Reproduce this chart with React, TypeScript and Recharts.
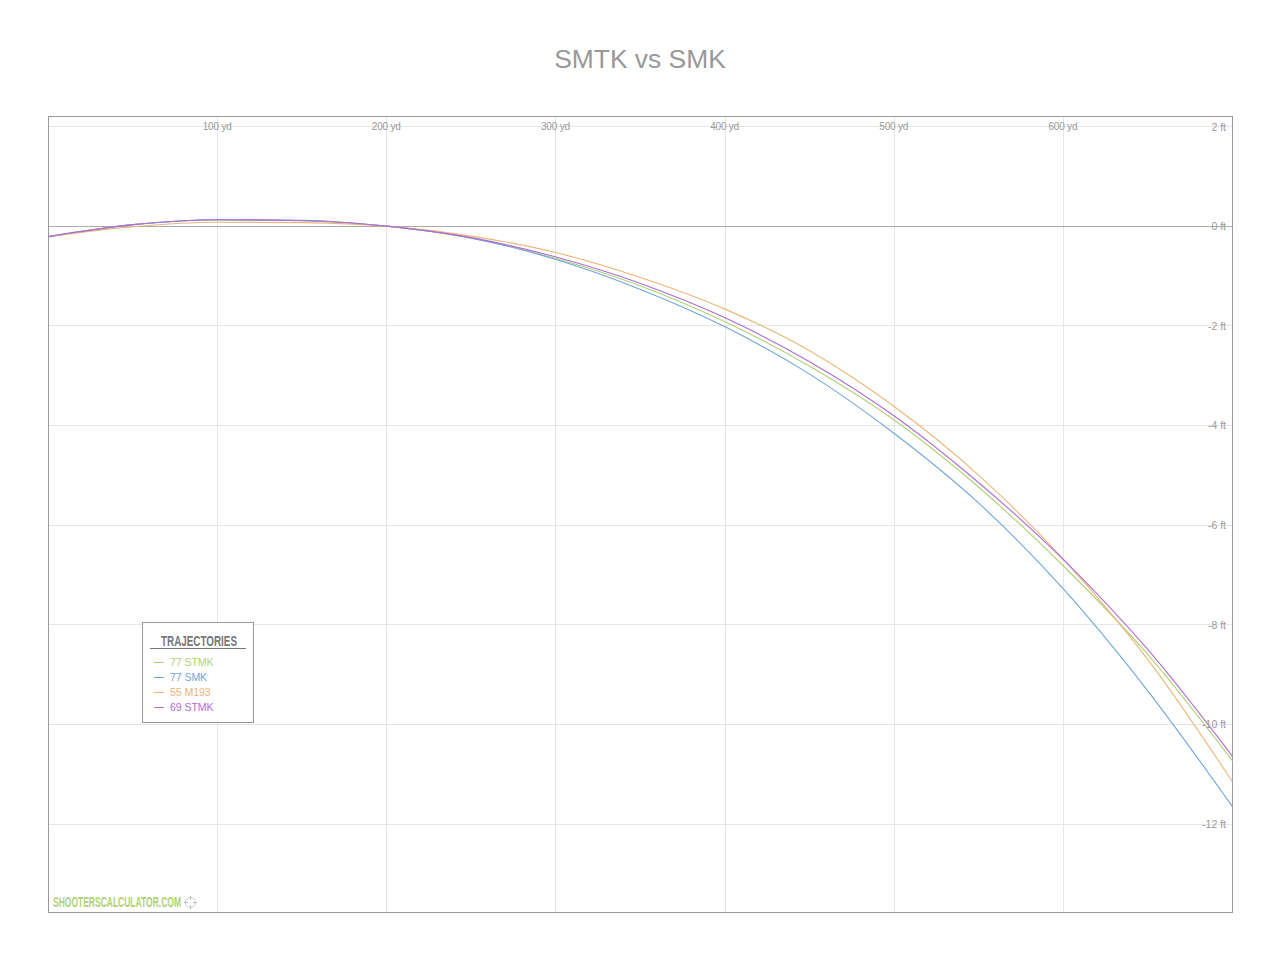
import React from "react";
import { LineChart, Line, XAxis, YAxis, CartesianGrid, ReferenceLine, ReferenceArea, Legend } from "recharts";

const TITLE = "SMTK vs SMK";
const LEGEND_TITLE = "TRAJECTORIES";
const WATERMARK = "SHOOTERSCALCULATOR.COM";

const yards = [0, 50, 100, 150, 200, 250, 300, 350, 400, 450, 500, 550, 600, 650, 700];
const stmk77 = [-0.21, 0.03, 0.125, 0.11, 0, -0.24, -0.65, -1.2, -1.92, -2.81, -3.89, -5.24, -6.82, -8.6, -10.73];
const smk77 = [-0.21, 0.03, 0.13, 0.11, 0, -0.24, -0.67, -1.27, -2.02, -2.97, -4.16, -5.56, -7.28, -9.33, -11.65];
const m193 = [-0.21, -0.01, 0.08, 0.07, 0, -0.2, -0.53, -1.03, -1.665, -2.5, -3.62, -5.0, -6.68, -8.7, -11.15];
const stmk69 = [-0.21, 0.03, 0.13, 0.12, 0, -0.23, -0.62, -1.15, -1.84, -2.72, -3.81, -5.15, -6.69, -8.5, -10.64];

const xTicks = [100, 200, 300, 400, 500, 600];
const yTicks = [2, 0, -2, -4, -6, -8, -10, -12];
const xDomain = [0, 700];
const yDomain = [-13.7736, 2.2007];

const seriesList = [
  { key: "stmk77", name: "77 STMK", color: "#aed374" },
  { key: "smk77", name: "77 SMK", color: "#6fa6d9" },
  { key: "m193", name: "55 M193", color: "#ecb67a" },
  { key: "stmk69", name: "69 STMK", color: "#b06cd6" },
];

const rows = yards.map((y, i) => ({ y, stmk77: stmk77[i], smk77: smk77[i], m193: m193[i], stmk69: stmk69[i] }));

const sans = "'Liberation Sans', Arial, sans-serif";

const LegendBox = () => (
  <div
    style={{
      position: "absolute",
      left: 142,
      top: 622,
      width: 110,
      height: 99,
      border: "1px solid #999",
      background: "rgba(255,255,255,0.88)",
      fontFamily: sans,
    }}
  >
    <svg style={{ position: "absolute", left: 0, top: 0 }} width={170} height={30}>
      <text x={18} y={22.5} fontFamily={sans} fontWeight={700} fontSize={15} fill="#777" textLength={76} lengthAdjust="spacingAndGlyphs">
        {LEGEND_TITLE}
      </text>
      <line x1={7} x2={103} y1={25.5} y2={25.5} stroke="#777" strokeWidth={1} />
    </svg>
    {seriesList.map((s, i) => (
      <div key={s.key} style={{ position: "absolute", left: 11, top: 32 + i * 15, height: 14, color: s.color, fontSize: 10.6, lineHeight: "14px", whiteSpace: "nowrap", letterSpacing: -0.1 }}>
        <span style={{ position: "absolute", left: 0, top: 7, width: 10, height: 1, background: s.color }} />
        <span style={{ position: "absolute", left: 16, top: 0 }}>{s.name}</span>
      </div>
    ))}
  </div>
);

const XTick = ({ x, y, payload }: any) => (
  <text x={x} y={y} dx={-0.5} textAnchor="middle" dominantBaseline="central" fontSize={10} fontFamily={sans} fill="#999" letterSpacing={-0.2}>
    {`${payload.value} yd`}
  </text>
);

const YTick = ({ x, y, payload }: any) => (
  <text x={x} y={y} textAnchor="end" dominantBaseline="central" fontSize={10.5} fontFamily={sans} fill="#999">
    {`${payload.value} ft`}
  </text>
);

export default function App() {
  return (
    <div style={{ position: "absolute", left: 0, top: 0, width: 1280, height: 960, background: "#fff", overflow: "hidden" }}>
      <div style={{ position: "absolute", left: 0, top: 42, width: 1280, textAlign: "center", fontFamily: sans, fontSize: 26.4, lineHeight: "34px", color: "#999" }}>{TITLE}</div>
      <LineChart width={1280} height={960} data={rows} margin={{ top: 116.5, right: 47.5, bottom: 47.5, left: 48.5 }}>
        <CartesianGrid stroke="#e6e6e6" strokeWidth={1} shapeRendering="crispEdges" />
        <XAxis dataKey="y" type="number" orientation="top" domain={xDomain} ticks={xTicks} interval={0} mirror height={30} axisLine={false} tickLine={false} tick={<XTick />} tickMargin={0} tickSize={9.5} />
        <YAxis type="number" orientation="right" domain={yDomain} ticks={yTicks} interval={0} mirror width={60} axisLine={false} tickLine={false} tick={<YTick />} allowDataOverflow tickMargin={0} tickSize={6.5} />
        <ReferenceLine y={0} stroke="#aaa" strokeWidth={1} shapeRendering="crispEdges" />
        <ReferenceArea x1={xDomain[0]} x2={xDomain[1]} y1={yDomain[0]} y2={yDomain[1]} fill="none" stroke="#999" strokeWidth={1} shapeRendering="crispEdges" ifOverflow="visible" />
        {seriesList.map((s) => (
          <Line key={s.key} dataKey={s.key} name={s.name} type="monotone" stroke={s.color} strokeWidth={1.1} dot={false} activeDot={false} isAnimationActive={false} />
        ))}
        <Legend content={<LegendBox />} wrapperStyle={{ position: "absolute", left: 0, top: 0, width: 0, height: 0, bottom: "auto" }} />
      </LineChart>
      <svg style={{ position: "absolute", left: 50, top: 892 }} width={300} height={20}>
        <text x={3} y={15} fontFamily={sans} fontWeight={700} fontSize={14} fill="#aed374" textLength={128} lengthAdjust="spacingAndGlyphs">
          {WATERMARK}
        </text>
        <circle cx={140.5} cy={10.5} r={5} fill="none" stroke="#ccc" />
        <path d="M140.5 4V8M140.5 13V17M134 10.5H138M143 10.5H147" stroke="#bbb" fill="none" />
      </svg>
    </div>
  );
}
